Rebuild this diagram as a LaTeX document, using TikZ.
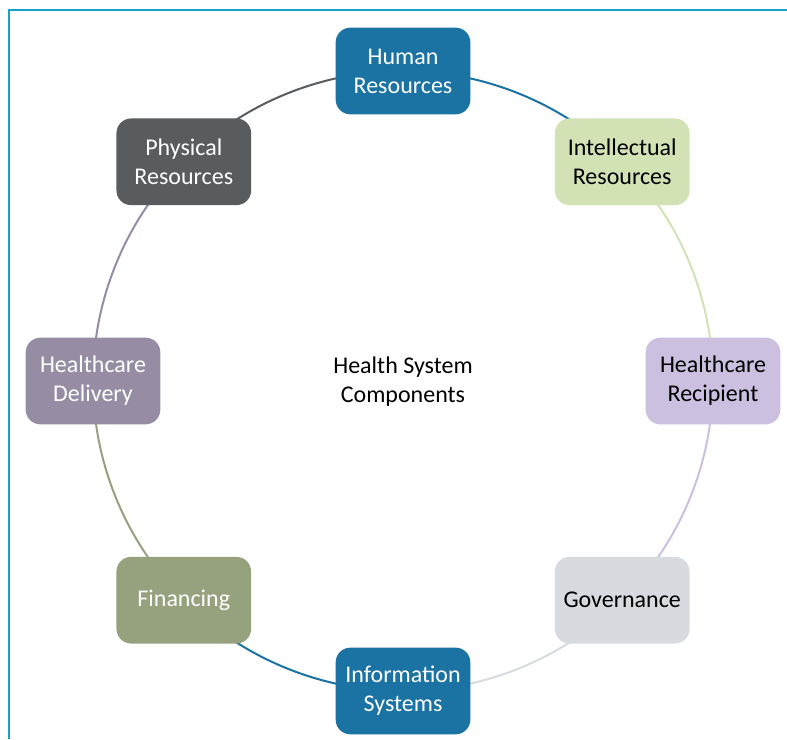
\documentclass[tikz,border=0pt]{standalone}
\usepackage{fontspec}
\setmainfont{Carlito}
\usetikzlibrary{backgrounds}

\definecolor{framecol}{RGB}{24,160,200}
\definecolor{hrblue}{RGB}{26,115,163}
\definecolor{irgreen}{RGB}{211,226,180}
\definecolor{recpurple}{RGB}{204,192,224}
\definecolor{govgray}{RGB}{215,218,223}
\definecolor{finolive}{RGB}{150,161,126}
\definecolor{delmauve}{RGB}{150,141,164}
\definecolor{physgray}{RGB}{88,92,95}

\tikzset{
  comp/.style={rounded corners=11pt, minimum width=101pt, minimum height=65pt,
    align=center, font=\fontsize{18}{21.75}\selectfont},
  ring/.style={line width=1.5pt, bend left=22.5, looseness=0.885}
}

\begin{document}
\begin{tikzpicture}[x=0.75pt,y=0.75pt]
\useasboundingbox (-403,-358) rectangle (384,381);
\draw[framecol, line width=1.5pt] (-394,-358) -- (-394,370.5) -- (384,370.5);

% components round the ring
\node[comp, fill=hrblue, text=white] (hr) at (90:310) {Human\\Resources};
\node[comp, fill=irgreen] (ir) at (45:310) {Intellectual\\Resources};
\node[comp, fill=recpurple] (rec) at (0:310) {Healthcare\\Recipient};
\node[comp, fill=govgray] (gov) at (-45:310) {Governance};
\node[comp, fill=hrblue, text=white] (info) at (-90:310) {Information\\Systems};
\node[comp, fill=finolive, text=white] (fin) at (-135:310) {Financing};
\node[comp, fill=delmauve, text=white] (del) at (180:310) {Healthcare\\Delivery};
\node[comp, fill=physgray, text=white] (phys) at (135:310) {Physical\\Resources};

\node[align=center, font=\fontsize{18}{21.75}\selectfont] (hs) at (0,-1) {Health System\\Components};

% ring segments, hidden under the boxes
\begin{scope}[on background layer]
\draw[ring, hrblue] (hr.center) to (ir.center);
\draw[ring, irgreen] (ir.center) to (rec.center);
\draw[ring, recpurple] (rec.center) to (gov.center);
\draw[ring, govgray] (gov.center) to (info.center);
\draw[ring, hrblue] (info.center) to (fin.center);
\draw[ring, finolive] (fin.center) to (del.center);
\draw[ring, delmauve] (del.center) to (phys.center);
\draw[ring, physgray] (phys.center) to (hr.center);
\end{scope}
\end{tikzpicture}
\end{document}
